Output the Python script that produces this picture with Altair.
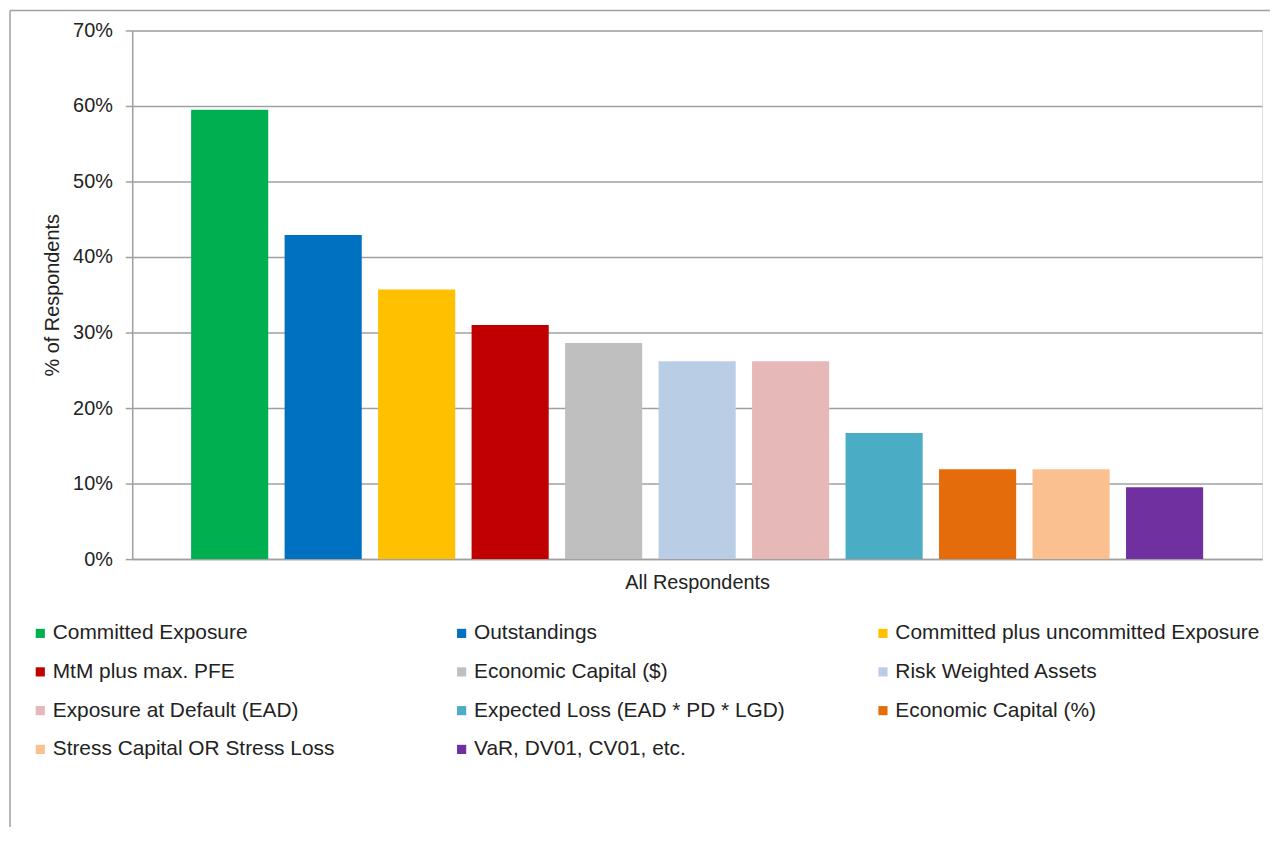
import altair as alt
import pandas as pd

group = "All Respondents"
series = [
    "Committed Exposure",
    "Outstandings",
    "Committed plus uncommitted Exposure",
    "MtM plus max. PFE",
    "Economic Capital ($)",
    "Risk Weighted Assets",
    "Exposure at Default (EAD)",
    "Expected Loss (EAD * PD * LGD)",
    "Economic Capital (%)",
    "Stress Capital OR Stress Loss",
    "VaR, DV01, CV01, etc.",
]
values = [0.595, 0.429, 0.357, 0.310, 0.286, 0.262, 0.262, 0.167, 0.119, 0.119, 0.095]
colors = [
    "#00B050", "#0070C0", "#FFC000", "#C00000", "#BFBFBF", "#B9CDE5",
    "#E6B9B8", "#4BACC6", "#E46C0A", "#FAC090", "#7030A0",
]
y_ticks = [0, 0.1, 0.2, 0.3, 0.4, 0.5, 0.6, 0.7]

df = pd.DataFrame({"group": [group] * len(series), "series": series, "value": values})

FONT = "Liberation Sans"
GRID = "#a0a0a0"

bars = alt.Chart(df).mark_bar().encode(
    x=alt.X(
        "group:N",
        scale=alt.Scale(paddingInner=0, paddingOuter=0),
        axis=alt.Axis(
            labels=False, ticks=False, title=group, titlePadding=14,
            titleFontSize=20, titleFont=FONT, titleFontWeight="normal",
            titleColor="#222222", domainColor=GRID, domainWidth=1.5,
        ),
    ),
    xOffset=alt.XOffset(
        "series:N", sort=series,
        scale=alt.Scale(paddingInner=0.175, paddingOuter=0.63),
    ),
    y=alt.Y(
        "value:Q",
        scale=alt.Scale(domain=[0, 0.7], nice=False),
        axis=alt.Axis(
            values=y_ticks, format=".0%", title="% of Respondents",
            labelFontSize=20, labelFont=FONT, labelColor="#222222", labelPadding=13,
            tickSize=7, tickColor=GRID, tickWidth=1.5,
            domainColor=GRID, domainWidth=1.5,
            gridColor=GRID, gridWidth=1.5,
            titleFontSize=20, titleFont=FONT, titleFontWeight="normal",
            titleColor="#222222", titlePadding=10,
        ),
    ),
    color=alt.Color(
        "series:N", sort=series,
        scale=alt.Scale(domain=series, range=colors),
        legend=alt.Legend(
            title=None, orient="none", legendX=-103, legendY=596, columns=3,
            direction="horizontal",
            gridAlign="all", columnPadding=34, rowPadding=17,
            symbolType="square", symbolSize=85, symbolStrokeWidth=0,
            symbolOffset=0, labelOffset=2, padding=0,
            labelFontSize=21, labelFont=FONT, labelColor="#222222", labelLimit=600,
        ),
    ),
)

frame_df = pd.DataFrame({"k": [0]})
left_border = alt.Chart(frame_df).mark_rule(color=GRID, strokeWidth=1.5).encode(
    x=alt.value(-123), y=alt.value(-20), y2=alt.value(830)
)
top_border = alt.Chart(frame_df).mark_rule(color=GRID, strokeWidth=1.5).encode(
    x=alt.value(-123), x2=alt.value(1150), y=alt.value(-20)
)

chart = alt.layer(left_border, top_border, bars).properties(
    width=1137,
    height=532,
    autosize=alt.AutoSizeParams(type="none"),
    padding={"left": 125, "top": 20, "right": 8, "bottom": 267},
).configure_view(stroke=None).configure(background="white")

chart.save("out.html", embed_options={"renderer": "svg", "actions": False})
